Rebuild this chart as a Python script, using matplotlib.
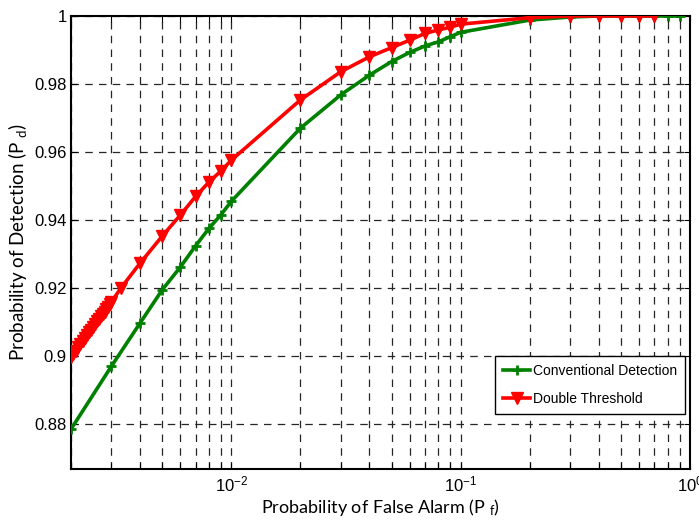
import matplotlib
matplotlib.use("Agg")
import matplotlib.pyplot as plt
from matplotlib.ticker import LogLocator, FixedLocator, NullFormatter, FuncFormatter
import numpy as np

# ---- data ----
pf_conv = [0.002, 0.003, 0.004, 0.005, 0.006, 0.007, 0.008, 0.009, 0.01,
           0.02, 0.03, 0.04, 0.05, 0.06, 0.07, 0.08, 0.09, 0.1,
           0.2, 0.3, 0.4, 0.5, 0.6, 0.7, 0.8, 0.9]
pd_conv = [0.8785, 0.8970, 0.9097, 0.9195, 0.9262, 0.9325, 0.9376, 0.9415, 0.9455,
           0.9670, 0.9768, 0.9826, 0.9866, 0.9893, 0.9912, 0.9924, 0.9939, 0.9952,
           0.9988, 0.9997, 1.0, 1.0, 1.0, 1.0, 1.0, 1.0]

pf_double = [0.002, 0.00205, 0.0021, 0.00215, 0.0022, 0.00225, 0.0023, 0.00235, 0.0024,
             0.00245, 0.0025, 0.00255, 0.0026, 0.00265, 0.0027, 0.00275, 0.0028, 0.00285,
             0.0029, 0.00295,
             0.003, 0.0033, 0.004, 0.005, 0.006, 0.007, 0.008, 0.009, 0.01,
             0.02, 0.03, 0.04, 0.05, 0.06, 0.07, 0.08, 0.09, 0.1,
             0.2, 0.3, 0.4, 0.5, 0.6, 0.7]
pd_double = [0.8997, 0.9007, 0.9016, 0.9026, 0.9035, 0.9044, 0.9053, 0.9062, 0.9070,
             0.9078, 0.9086, 0.9094, 0.9102, 0.9110, 0.9117, 0.9124, 0.9131, 0.9138,
             0.9145, 0.9152,
             0.9159, 0.9200, 0.9273, 0.9353, 0.9415, 0.9470, 0.9512, 0.9544, 0.9576,
             0.9753, 0.9836, 0.9880, 0.9907, 0.9929, 0.9949, 0.9959, 0.9967, 0.9976,
             0.9995, 1.0, 1.0, 1.0, 1.0, 1.0]

y_ticks = [0.88, 0.90, 0.92, 0.94, 0.96, 0.98, 1.0]
y_tick_labels = ["0.88", "0.9", "0.92", "0.94", "0.96", "0.98", "1"]
labels = ["Conventional Detection", "Double Threshold"]

narrow = ['Liberation Sans', 'DejaVu Sans']
labfont = ['Lato', 'DejaVu Sans']
plt.rcParams['mathtext.fontset'] = 'custom'
plt.rcParams['mathtext.rm'] = 'Liberation Sans'
plt.rcParams['mathtext.it'] = 'Liberation Sans'
plt.rcParams['mathtext.default'] = 'regular'

fig = plt.figure(figsize=(6.99, 5.25), dpi=100)
ax = fig.add_axes([71/699, 1-469/525, (690-71)/699, (469-16)/525])

ax.plot(pf_conv, pd_conv, color='#008000', lw=2.6, marker='+', ms=7, mew=2,
        label=labels[0], zorder=3)
ax.plot(pf_double, pd_double, color='#ff0000', lw=2.6, marker='v', ms=8,
        label=labels[1], zorder=4)

ax.set_xscale('log')
ax.set_xlim(0.002, 1)
ax.set_ylim(0.8668, 1.0)

ax.xaxis.set_major_locator(FixedLocator([0.01, 0.1, 1]))
ax.xaxis.set_minor_locator(LogLocator(base=10, subs=np.arange(2, 10), numticks=20))
ax.xaxis.set_minor_formatter(NullFormatter())
ax.xaxis.set_major_formatter(FuncFormatter(lambda v, p: r'$10^{%d}$' % int(round(np.log10(v)))))
ax.set_yticks(y_ticks)
ax.set_yticklabels(y_tick_labels)

ax.tick_params(which='both', direction='in', top=True, right=True, length=4, width=0.8)
ax.tick_params(axis='x', pad=4)
ax.tick_params(axis='y', pad=3)
for lab in ax.get_xticklabels() + ax.get_yticklabels():
    lab.set_family(narrow)
    lab.set_fontsize(12)

gridkw = dict(color='0.15', lw=0.9, dashes=(6, 5))
ax.grid(True, which='major', axis='both', **gridkw)
ax.grid(True, which='minor', axis='x', **gridkw)
for s in ax.spines.values():
    s.set_linewidth(1.5)

ax.set_xlabel(r'Probability of False Alarm (P $_{f}$)', fontsize=13, family=labfont, labelpad=2)
ax.set_ylabel(r'Probability of Detection (P $_{d}$)', fontsize=13.5, family=labfont, labelpad=4)

leg = ax.legend(loc='lower right', bbox_to_anchor=(0.992, 0.121), numpoints=1,
                prop={'family': narrow, 'size': 10}, fancybox=False, framealpha=1,
                edgecolor='black', borderpad=0.6, handlelength=1.9, handletextpad=0.2,
                labelspacing=1.0, borderaxespad=0)
leg.get_frame().set_linewidth(1.0)

fig.savefig('out.png', dpi=100)
